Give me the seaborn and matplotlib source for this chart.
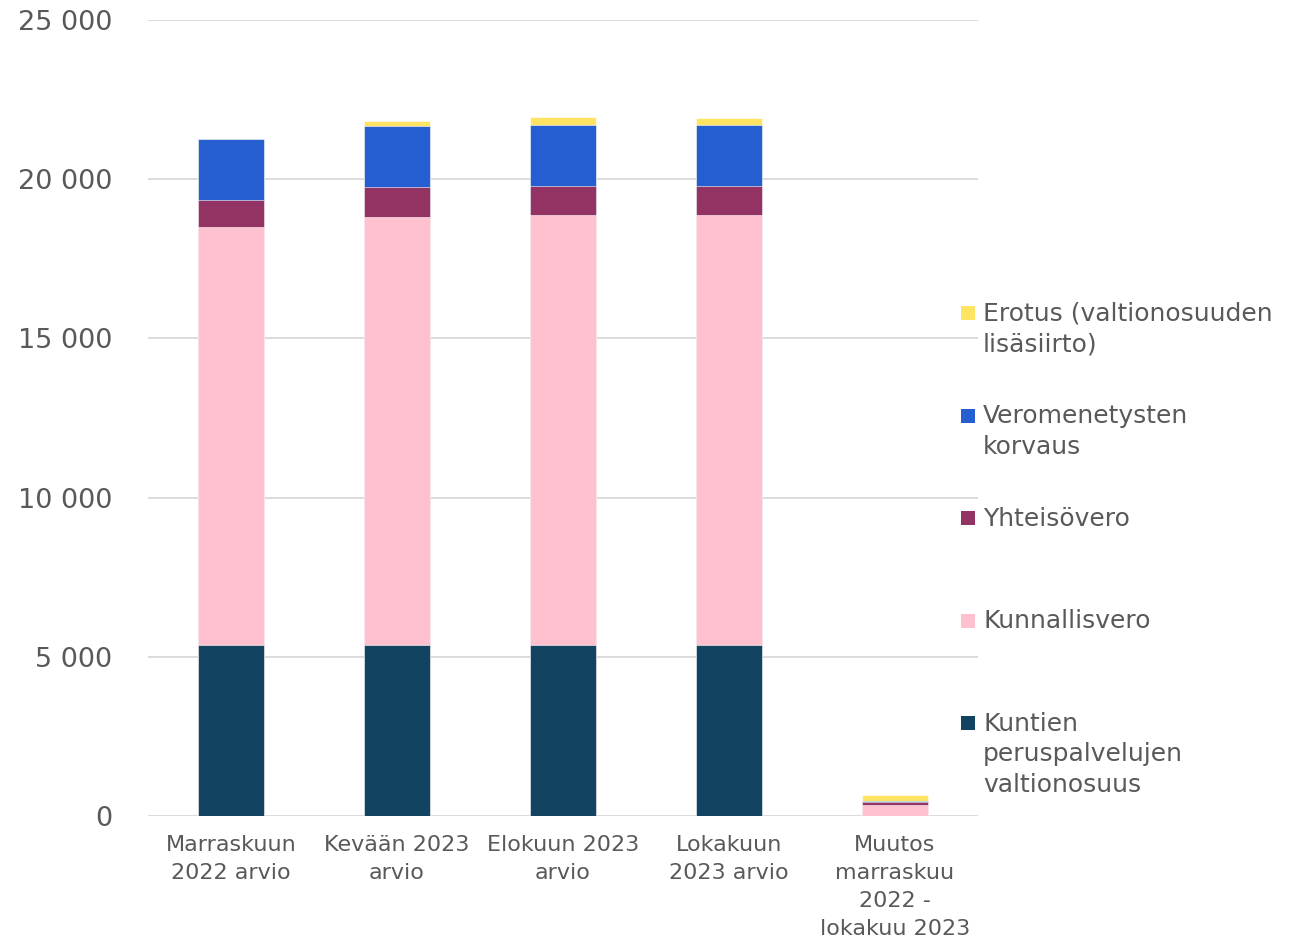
import numpy as np
import pandas as pd
import seaborn as sns
import matplotlib.pyplot as plt
from matplotlib.patches import Rectangle

# categories on the x axis
categories = ["Marraskuun\n2022 arvio", "Kevään 2023\narvio", "Elokuun 2023\narvio",
              "Lokakuun\n2023 arvio", "Muutos\nmarraskuu\n2022 -\nlokakuu 2023"]

# series values (milj. euroa), bottom to top
valtionosuus = [5370, 5370, 5370, 5370, 0]
kunnallisvero = [13130, 13450, 13500, 13500, 360]
yhteisovero = [850, 930, 910, 910, 90]
veromenetys = [1920, 1930, 1930, 1930, 10]
erotus = [0, 150, 230, 210, 200]

series_names = ["Kuntien\nperuspalvelujen\nvaltionosuus", "Kunnallisvero", "Yhteisövero",
                "Veromenetysten\nkorvaus", "Erotus (valtionosuuden\nlisäsiirto)"]
series_values = [valtionosuus, kunnallisvero, yhteisovero, veromenetys, erotus]
colors = ["#124462", "#ffc0cf", "#933364", "#255ed1", "#ffe362"]

yticks = [0, 5000, 10000, 15000, 20000, 25000]

text_color = "#595959"

sns.set_theme(style="white")
plt.rcParams['font.family'] = ['DejaVu Sans']

fig = plt.figure(figsize=(12.91, 9.41), dpi=100)
ax = fig.add_axes([148 / 1291, 1 - 816 / 941, (978 - 148) / 1291, (816 - 20) / 941])

# stacked bars: draw cumulative totals from the top layer down
cum = np.cumsum(np.array(series_values), axis=0)
for i in range(len(series_values) - 1, -1, -1):
    df = pd.DataFrame({"cat": categories, "val": cum[i]})
    sns.barplot(data=df, x="cat", y="val", color=colors[i], width=0.4,
                edgecolor="white", linewidth=0.4, saturation=1, ax=ax)

ax.set_ylim(0, 25000)
ax.set_yticks(yticks)
ax.set_yticklabels([f"{v:,}".replace(",", " ") for v in yticks])
ax.set_xlabel("")
ax.set_ylabel("")
ax.grid(axis="y", color="#d9d9d9", linewidth=1.3)
ax.set_axisbelow(True)
for s in ax.spines.values():
    s.set_visible(False)
ax.tick_params(axis="y", length=0, pad=26, labelsize=19.5, labelcolor=text_color)
ax.tick_params(axis="x", length=0, pad=14, labelsize=16, labelcolor=text_color)
for lab in ax.get_xticklabels():
    lab.set_linespacing(1.5)

# legend on the right, top entry first (reverse stacking order)
W, H = 1291, 941
for k, i in enumerate(range(len(series_names) - 1, -1, -1)):
    yc = 313 + k * 102.5
    fig.patches.append(Rectangle((961 / W, 1 - (yc + 7) / H), 14 / W, 14 / H,
                                 transform=fig.transFigure, facecolor=colors[i],
                                 edgecolor="none"))
    fig.text(983 / W, 1 - (yc - 11) / H, series_names[i], ha="left", va="top",
             fontsize=18, color=text_color, linespacing=1.33)

fig.savefig("out.png", dpi=100)
